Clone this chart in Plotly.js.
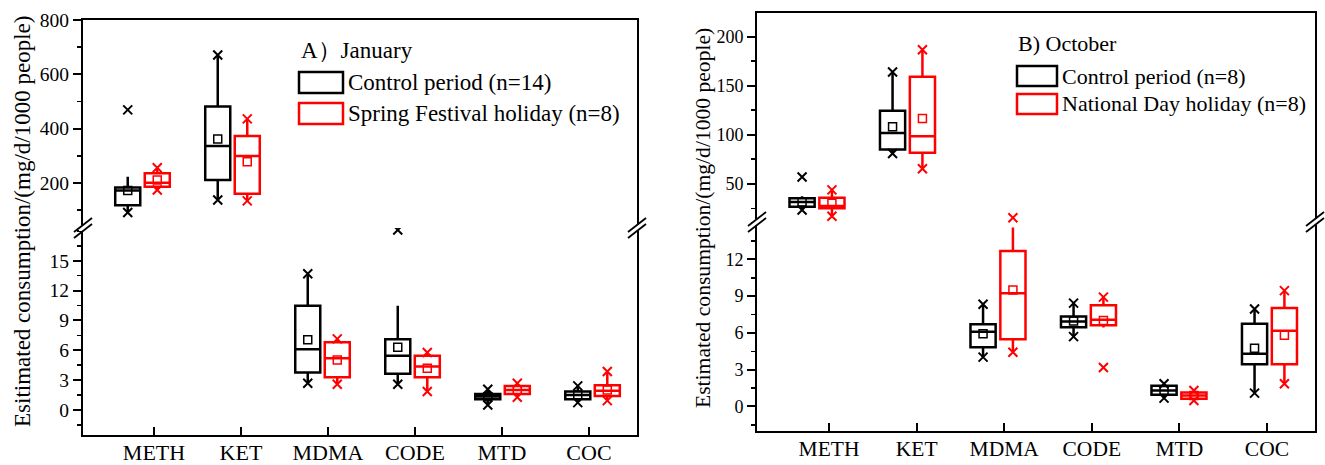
<!DOCTYPE html>
<html>
<head>
<meta charset="utf-8">
<script src="https://cdn.plot.ly/plotly-3.0.1.min.js"></script>
<style>html,body{margin:0;padding:0;background:#fff;}#chart{width:1325px;height:465px;}</style>
</head>
<body>
<div id="chart"></div>
<script>
// ---------------- data ----------------
const drugs = ['METH', 'KET', 'MDMA', 'CODE', 'MTD', 'COC'];
const segment = ['upper', 'upper', 'lower', 'lower', 'lower', 'lower'];

// A) January — Control period (n=14)
const janCtrlQ1   = [118, 211, 3.76, 3.63, 1.07, 1.07];
const janCtrlMed  = [172, 336, 6.11, 5.44, 1.34, 1.50];
const janCtrlQ3   = [183, 481, 10.47, 7.12, 1.61, 1.85];
const janCtrlMean = [172, 362, 7.05, 6.31, 1.33, 1.50];
const janCtrlLow  = [91, 137, 2.69, 2.59, 0.50, 0.74];
const janCtrlHigh = [223, 671, 13.7, 10.47, 2.08, 2.42];
const janCtrlMin  = [91, 137, 2.69, 2.59, 0.50, 0.74];
const janCtrlMax  = [469, 671, 13.7, 18.1, 2.08, 2.42];

// A) January — Spring Festival holiday (n=8)
const janHolQ1   = [186, 160, 3.29, 3.29, 1.61, 1.41];
const janHolMed  = [201, 299, 5.20, 4.36, 2.01, 1.94];
const janHolQ3   = [236, 373, 6.82, 5.44, 2.42, 2.49];
const janHolMean = [211, 278, 5.03, 4.20, 2.00, 2.01];
const janHolLow  = [174, 134, 2.59, 1.85, 1.28, 0.94];
const janHolHigh = [256, 436, 7.15, 5.77, 2.69, 3.86];
const janHolMin  = [174, 134, 2.59, 1.85, 1.28, 0.94];
const janHolMax  = [256, 436, 7.15, 5.77, 2.69, 3.86];

// B) October — Control period (n=8)
const octCtrlQ1   = [26.5, 84.9, 4.84, 6.47, 0.95, 3.45];
const octCtrlMed  = [31.4, 101.8, 6.09, 6.93, 1.30, 4.30];
const octCtrlQ3   = [35.1, 124.5, 6.71, 7.34, 1.69, 6.76];
const octCtrlMean = [31.5, 108.2, 5.93, 6.98, 1.30, 4.76];
const octCtrlLow  = [23.2, 80.8, 4.03, 5.70, 0.68, 1.09];
const octCtrlHigh = [37.3, 163.8, 8.34, 8.43, 1.85, 7.96];
const octCtrlMin  = [23.2, 80.8, 4.03, 5.70, 0.68, 1.09];
const octCtrlMax  = [56.9, 163.8, 8.34, 8.43, 1.85, 7.96];

// B) October — National Day holiday (n=8)
const octHolQ1   = [24.9, 81.5, 5.49, 6.63, 0.63, 3.45];
const octHolMed  = [27.2, 98.4, 9.24, 7.07, 0.90, 6.17];
const octHolQ3   = [35.8, 159.0, 12.69, 8.26, 1.14, 8.04];
const octHolMean = [30.0, 116.4, 9.51, 7.01, 0.90, 5.82];
const octHolLow  = [16.8, 65.2, 4.43, 6.45, 0.49, 1.85];
const octHolHigh = [43.7, 186.5, 14.6, 8.92, 1.30, 9.45];
const octHolMin  = [16.8, 65.2, 4.43, 3.18, 0.49, 1.85];
const octHolMax  = [43.7, 186.5, 15.4, 8.92, 1.30, 9.45];

// tick labels
const janUpperTicks = [200, 400, 600, 800];
const janLowerTicks = [0, 3, 6, 9, 12, 15];
const octUpperTicks = [50, 100, 150, 200];
const octLowerTicks = [0, 3, 6, 9, 12];

const janTitle = 'A）January';
const octTitle = 'B) October';
const janNames = ['Control period (n=14)', 'Spring Festival holiday (n=8)'];
const octNames = ['Control period (n=8)', 'National Day holiday (n=8)'];
const janYTitle = 'Esitimated consumption/(mg/d/1000 people)';
const octYTitle = 'Estimated consumption/(mg/d/1000 people)';

// ---------------- layout helpers ----------------
const W = 1325, H = 465;
const FONT = 'Liberation Serif, Times New Roman, serif';
const BLACK = '#000000', RED = '#ff0000';
const px = v => v / W;
const py = v => 1 - v / H;

const panels = [
  {xs: 'x', xb: 'x2', ylo: 'y', yhi: 'y2', xsK: 'xaxis', xbK: 'xaxis2', yloK: 'yaxis', yhiK: 'yaxis2',
   x0: 83, x1: 637, top: 20, brk: 228, loTop: 228, bot: 435,
   tickRange: [-0.816, 5.552], boxRange: [-0.661, 5.494],
   hiRange: [34, 800], loRange: [-2.52, 18.3], hiTicks: janUpperTicks, loTicks: janLowerTicks,
   hiMinor: 100, loMinor: 1.5, yFont: 19.5, xFont: 22, clip: true,
   groups: [
     {c: BLACK, off: -0.164, q1: janCtrlQ1, med: janCtrlMed, q3: janCtrlQ3, mean: janCtrlMean, lo: janCtrlLow, hi: janCtrlHigh, mn: janCtrlMin, mx: janCtrlMax},
     {c: RED, off: 0.164, q1: janHolQ1, med: janHolMed, q3: janHolQ3, mean: janHolMean, lo: janHolLow, hi: janHolHigh, mn: janHolMin, mx: janHolMax}
   ],
   title: janTitle, names: janNames, yTitle: janYTitle, yTitleX: 22, yTitleY: 222, yTitleFont: 23,
   leg: {tx: 299, ty: 50, sx0: 299, sx1: 343, s1: [72, 93], s2: [103, 124], textX: 346, font: 23}},
  {xs: 'x3', xb: 'x4', ylo: 'y3', yhi: 'y4', xsK: 'xaxis3', xbK: 'xaxis4', yloK: 'yaxis3', yhiK: 'yaxis4',
   x0: 757, x1: 1315, top: 13, brk: 222, loTop: 216.5, bot: 431,
   tickRange: [-0.823, 5.549], boxRange: [-0.663, 5.503],
   hiRange: [11, 224], loRange: [-2.0, 15.5], hiTicks: octUpperTicks, loTicks: octLowerTicks,
   hiMinor: 25, loMinor: 1.5, yFont: 18, xFont: 21.5, clip: false,
   groups: [
     {c: BLACK, off: -0.165, q1: octCtrlQ1, med: octCtrlMed, q3: octCtrlQ3, mean: octCtrlMean, lo: octCtrlLow, hi: octCtrlHigh, mn: octCtrlMin, mx: octCtrlMax},
     {c: RED, off: 0.165, q1: octHolQ1, med: octHolMed, q3: octHolQ3, mean: octHolMean, lo: octHolLow, hi: octHolHigh, mn: octHolMin, mx: octHolMax}
   ],
   title: octTitle, names: octNames, yTitle: octYTitle, yTitleX: 703, yTitleY: 218, yTitleFont: 21.6,
   leg: {tx: 1016, ty: 43, sx0: 1017, sx1: 1057, s1: [66, 86], s2: [94, 114], textX: 1060, font: 22}}
];

const traces = [];
const layout = {
  width: W, height: H,
  margin: {l: 0, r: 0, t: 0, b: 0, pad: 0},
  paper_bgcolor: '#ffffff', plot_bgcolor: 'rgba(0,0,0,0)',
  showlegend: false, boxmode: 'overlay',
  font: {family: FONT, color: BLACK},
  shapes: [], annotations: []
};

panels.forEach(p => {
  const xDom = [px(p.x0), px(p.x1)];
  const hiDom = [py(p.brk), py(p.top)];
  const loDom = [py(p.bot), py(p.loTop)];

  // empty traces so that the tick/frame subplots exist
  [p.ylo, p.yhi].forEach(ya => {
    traces.push({type: 'scatter', mode: 'markers', xaxis: p.xs, yaxis: ya, x: [], y: [], hoverinfo: 'skip'});
  });

  // visible category/tick axis (bottom)
  layout[p.xsK] = {
    domain: xDom, anchor: p.ylo, range: p.tickRange, type: 'linear',
    tickmode: 'array', tickvals: drugs.map((d, i) => i), ticktext: drugs,
    ticks: 'inside', ticklen: 8, tickwidth: 2, tickcolor: BLACK,
    showline: true, linewidth: 2, linecolor: BLACK,
    showgrid: false, zeroline: false, fixedrange: true, autorange: false,
    ticklabelstandoff: -3,
    tickfont: {family: FONT, size: p.xFont, color: BLACK}
  };
  // box position axis (top frame line)
  layout[p.xbK] = {
    domain: xDom, anchor: p.yhi, side: 'top', range: p.boxRange, type: 'linear', autorange: false,
    showline: true, linewidth: 2, linecolor: BLACK, ticks: '', showticklabels: false,
    showgrid: false, zeroline: false, fixedrange: true
  };
  const yCommon = {
    anchor: p.xs, type: 'linear', tickmode: 'array', autorange: false,
    ticks: 'outside', ticklen: 8, tickwidth: 2, tickcolor: BLACK,
    showline: true, linewidth: 2, linecolor: BLACK, mirror: true,
    showgrid: false, zeroline: false, fixedrange: true,
    tickfont: {family: FONT, size: p.yFont, color: BLACK}
  };
  layout[p.yhiK] = Object.assign({}, yCommon, {
    domain: hiDom, range: p.hiRange, tickvals: p.hiTicks,
    minor: {dtick: p.hiMinor, tick0: 0, ticks: 'outside', ticklen: 4, tickwidth: 1.5, tickcolor: BLACK, showgrid: false}
  });
  layout[p.yloK] = Object.assign({}, yCommon, {
    domain: loDom, range: p.loRange, tickvals: p.loTicks,
    minor: {dtick: p.loMinor, tick0: 0, ticks: 'outside', ticklen: 4, tickwidth: 1.5, tickcolor: BLACK, showgrid: false}
  });

  // data traces
  p.groups.forEach(g => {
    ['upper', 'lower'].forEach(seg => {
      const idx = drugs.map((d, i) => i).filter(i => segment[i] === seg);
      const ya = seg === 'upper' ? p.yhi : p.ylo;
      const xs = idx.map(i => i + g.off);
      traces.push({
        type: 'box', xaxis: p.xb, yaxis: ya, x: xs,
        q1: idx.map(i => g.q1[i]), median: idx.map(i => g.med[i]), q3: idx.map(i => g.q3[i]),
        lowerfence: idx.map(i => g.lo[i]), upperfence: idx.map(i => g.hi[i]),
        boxpoints: false, width: 0.278, whiskerwidth: 0,
        line: {color: g.c, width: 2.5}, fillcolor: 'rgba(0,0,0,0)', hoverinfo: 'skip'
      });
      traces.push({
        type: 'scatter', mode: 'markers', xaxis: p.xb, yaxis: ya, x: xs,
        y: idx.map(i => g.mean[i]), cliponaxis: p.clip, hoverinfo: 'skip',
        marker: {symbol: 'square-open', size: 8, color: g.c, line: {color: g.c, width: 1.5}}
      });
      traces.push({
        type: 'scatter', mode: 'markers', xaxis: p.xb, yaxis: ya,
        x: xs.concat(xs), y: idx.map(i => g.mn[i]).concat(idx.map(i => g.mx[i])),
        cliponaxis: p.clip, hoverinfo: 'skip',
        marker: {symbol: 'x-thin-open', size: 9, color: g.c, line: {color: g.c, width: 2}}
      });
    });
  });

  // axis-break marks
  [p.x0, p.x1].forEach(X => {
    layout.shapes.push({type: 'rect', xref: 'paper', yref: 'paper', layer: 'above',
      x0: px(X - 4), x1: px(X + 4), y0: py(p.brk - 3), y1: py(p.brk + 3),
      fillcolor: '#ffffff', line: {width: 0}});
    [-3, 3].forEach(d => {
      layout.shapes.push({type: 'line', xref: 'paper', yref: 'paper', layer: 'above',
        x0: px(X - 9), y0: py(p.brk + d + 7), x1: px(X + 9), y1: py(p.brk + d - 7),
        line: {color: BLACK, width: 1.8}});
    });
  });

  // legend (swatches + text)
  [[p.leg.s1, BLACK, p.names[0]], [p.leg.s2, RED, p.names[1]]].forEach(([s, c, t]) => {
    layout.shapes.push({type: 'rect', xref: 'paper', yref: 'paper', layer: 'above',
      x0: px(p.leg.sx0), x1: px(p.leg.sx1), y0: py(s[1]), y1: py(s[0]),
      fillcolor: 'rgba(0,0,0,0)', line: {color: c, width: 2.5}});
    layout.annotations.push({xref: 'paper', yref: 'paper', x: px(p.leg.textX), y: py((s[0] + s[1]) / 2),
      xanchor: 'left', yanchor: 'middle', showarrow: false, text: t,
      font: {family: FONT, size: p.leg.font, color: BLACK}});
  });
  layout.annotations.push({xref: 'paper', yref: 'paper', x: px(p.leg.tx), y: py(p.leg.ty),
    xanchor: 'left', yanchor: 'middle', showarrow: false, text: p.title,
    font: {family: FONT, size: p.leg.font, color: BLACK}});

  // y-axis title spanning both segments
  layout.annotations.push({xref: 'paper', yref: 'paper', x: px(p.yTitleX), y: py(p.yTitleY),
    xanchor: 'center', yanchor: 'middle', showarrow: false, textangle: -90, text: p.yTitle,
    font: {family: FONT, size: p.yTitleFont, color: BLACK}});
});

Plotly.newPlot('chart', traces, layout, {displayModeBar: false, staticPlot: true});
</script>
</body>
</html>
